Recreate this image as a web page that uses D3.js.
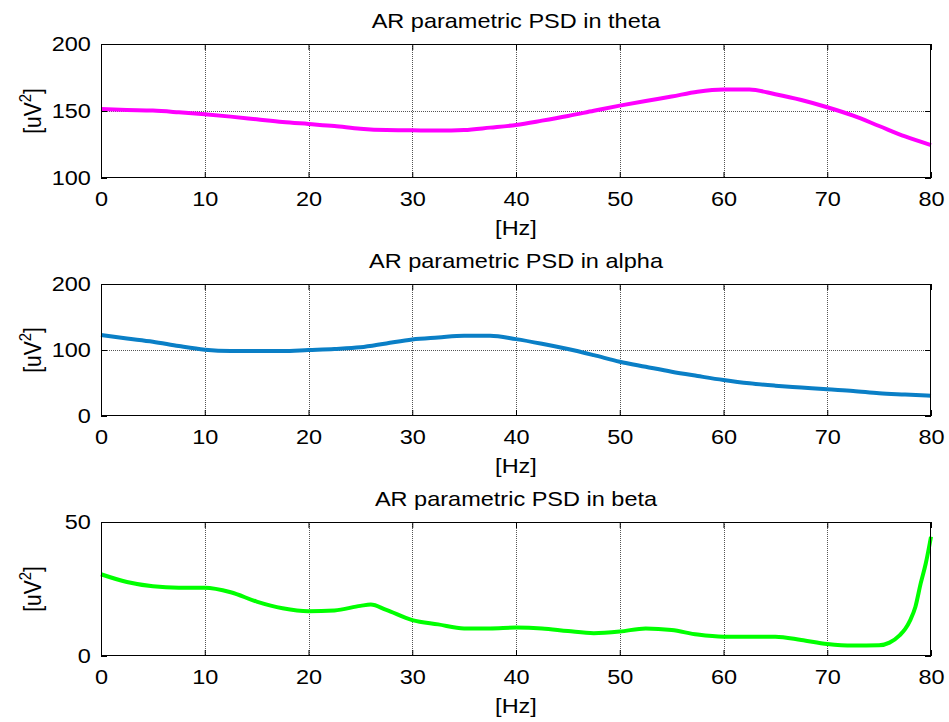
<!DOCTYPE html>
<html>
<head>
<meta charset="utf-8">
<script src="https://cdn.jsdelivr.net/npm/d3@7/dist/d3.min.js"></script>
<style>
  html, body { margin: 0; padding: 0; background: #fff; }
  svg { display: block; }
  text { font-family: "Liberation Sans", Arial, Helvetica, sans-serif; fill: #000; }
</style>
</head>
<body>
<svg id="chart" width="949" height="722"></svg>
<script>
// Frequency axis ticks (Hz)
const freqTicks = [0, 10, 20, 30, 40, 50, 60, 70, 80];

// Theta band PSD
const thetaFreq = [0, 2.5, 5, 7.5, 10, 12.5, 15, 17.5, 20, 22.5, 25, 27.5, 30, 32.5, 35, 37.5, 40,
                   42.5, 45, 47.5, 50, 52.5, 55, 57.5, 60, 62.5, 65, 67.5, 70, 72.5, 75, 77.5, 80];
const thetaPsd  = [151.5, 150.8, 150.3, 149, 147.5, 145.8, 143.8, 141.8, 140.3, 138.8, 136.8, 135.8,
                   135.6, 135.4, 135.8, 137.6, 139.6, 142.8, 146.3, 150.2, 154, 157.5, 160.8, 164.4,
                   166, 166, 162.5, 158.2, 152.8, 146.5, 138.8, 131, 124.6];
const thetaTicks = [100, 150, 200];

// Alpha band PSD
const alphaFreq = [0, 2.5, 5, 7.5, 10, 12.5, 15, 17.5, 20, 22.5, 25, 27.5, 30, 32.5, 35, 37.5, 40,
                   42.5, 45, 47.5, 50, 52.5, 55, 57.5, 60, 62.5, 65, 67.5, 70, 72.5, 75, 77.5, 80];
const alphaPsd  = [122.7, 117.5, 112.6, 106, 100.5, 98.5, 98.5, 98.5, 100, 101.5, 104, 110, 116, 119,
                   121.7, 121.7, 116.5, 109.5, 101.5, 92.2, 82.3, 74.6, 67, 60.6, 54.5, 49.5, 46, 43.2,
                   40.4, 38, 34.3, 32.5, 30.8];
const alphaTicks = [0, 100, 200];

// Beta band PSD
const betaFreq = [0, 2.5, 5, 7.5, 10, 12.5, 15, 17.5, 20, 22.5, 25, 26, 27.5, 30, 32.5, 35, 37.5, 40,
                  42.5, 45, 47.5, 50, 52.5, 55, 57.5, 60, 62.5, 65, 67.5, 70, 72.5, 75, 76, 77, 77.5,
                  78, 78.5, 79, 79.5, 80];
const betaPsd  = [30.5, 27.6, 26, 25.5, 25.5, 23.8, 20.3, 17.8, 16.7, 17, 18.7, 19.2, 17.2, 13.4, 11.8,
                  10.3, 10.3, 10.6, 10.3, 9.3, 8.5, 9.1, 10.3, 9.7, 8.0, 7.2, 7.2, 7.2, 6.0, 4.5, 3.9,
                  4.0, 5.0, 7.8, 10, 13.4, 18.4, 27, 34.6, 44.5];
const betaTicks = [0, 50];

const titles = ["AR parametric PSD in theta", "AR parametric PSD in alpha", "AR parametric PSD in beta"];
const xLabel = "[Hz]";

const panels = [
  { title: titles[0], freq: thetaFreq, psd: thetaPsd, ticks: thetaTicks, domain: [100, 200], color: "#ff00ff", top: 44, bottom: 178 },
  { title: titles[1], freq: alphaFreq, psd: alphaPsd, ticks: alphaTicks, domain: [0, 200],   color: "#0a7fc6", top: 284, bottom: 416 },
  { title: titles[2], freq: betaFreq,  psd: betaPsd,  ticks: betaTicks,  domain: [0, 50],    color: "#00ff00", top: 522, bottom: 656 }
];

const svg = d3.select("#chart");
const left = 101, right = 931;
const fontSize = 21;
const stretch = 1.12;   // horizontal text stretch of the figure
const tickLen = 6;

const x = d3.scaleLinear().domain([0, 80]).range([left, right]);

panels.forEach(p => {
  const y = d3.scaleLinear().domain(p.domain).range([p.bottom, p.top]);
  const g = svg.append("g");

  // grid: vertical at interior x ticks, horizontal at interior y ticks
  const grid = g.append("g").attr("stroke", "#555").attr("stroke-width", 1).attr("stroke-dasharray", "1,1");
  freqTicks.filter(t => t > 0 && t < 80).forEach(t => {
    grid.append("line")
      .attr("x1", Math.round(x(t)) + 0.5).attr("x2", Math.round(x(t)) + 0.5)
      .attr("y1", p.top).attr("y2", p.bottom);
  });
  p.ticks.filter(t => t > p.domain[0] && t < p.domain[1]).forEach(t => {
    grid.append("line")
      .attr("y1", Math.round(y(t)) + 0.5).attr("y2", Math.round(y(t)) + 0.5)
      .attr("x1", left).attr("x2", right);
  });

  // data line
  const line = d3.line()
    .x((d, i) => x(p.freq[i]))
    .y(d => y(d))
    .curve(d3.curveMonotoneX);
  g.append("path")
    .datum(p.psd)
    .attr("fill", "none")
    .attr("stroke", p.color)
    .attr("stroke-width", 4)
    .attr("stroke-linejoin", "round")
    .attr("stroke-linecap", "butt")
    .attr("d", line);

  // axes with inward ticks on all four sides
  const styleAxis = sel => {
    sel.select(".domain").remove();
    sel.selectAll(".tick line").attr("stroke", "#000");
    sel.selectAll(".tick text").attr("font-size", fontSize).attr("fill", "#000")
      .attr("transform", `scale(${stretch},1)`)
      .style("font-family", "'Liberation Sans', Arial, Helvetica, sans-serif");
  };

  g.append("g")
    .attr("transform", `translate(0,${p.bottom})`)
    .call(d3.axisBottom(x).tickValues(freqTicks).tickFormat(d3.format("d"))
      .tickSizeInner(-tickLen).tickSizeOuter(0).tickPadding(13))
    .call(styleAxis);
  g.append("g")
    .attr("transform", `translate(0,${p.top})`)
    .call(d3.axisTop(x).tickValues(freqTicks).tickFormat("")
      .tickSizeInner(-tickLen).tickSizeOuter(0))
    .call(styleAxis);
  g.append("g")
    .attr("transform", `translate(${left},0)`)
    .call(d3.axisLeft(y).tickValues(p.ticks).tickFormat(d3.format("d"))
      .tickSizeInner(-tickLen).tickSizeOuter(0).tickPadding(9))
    .call(styleAxis);
  g.append("g")
    .attr("transform", `translate(${right},0)`)
    .call(d3.axisRight(y).tickValues(p.ticks).tickFormat("")
      .tickSizeInner(-tickLen).tickSizeOuter(0))
    .call(styleAxis);

  // box
  g.append("rect")
    .attr("x", left + 0.5).attr("y", p.top + 0.5)
    .attr("width", right - left - 1).attr("height", p.bottom - p.top - 1)
    .attr("fill", "none").attr("stroke", "#000").attr("stroke-width", 1);

  // title
  g.append("text")
    .attr("transform", `translate(${(left + right) / 2},${p.top - 16}) scale(${stretch},1)`)
    .attr("text-anchor", "middle").attr("font-size", fontSize)
    .text(p.title);

  // x label
  g.append("text")
    .attr("transform", `translate(${(left + right) / 2},${p.bottom + 57}) scale(${stretch},1)`)
    .attr("text-anchor", "middle").attr("font-size", fontSize)
    .text(xLabel);

  // y label [uV^2]
  const yl = g.append("text")
    .attr("transform", `translate(41,${(p.top + p.bottom) / 2}) scale(${stretch},1) rotate(-90)`)
    .attr("text-anchor", "middle").attr("font-size", fontSize);
  yl.append("tspan").text("[uV");
  yl.append("tspan").attr("font-size", 15).attr("dy", -9).text("2");
  yl.append("tspan").attr("dy", 9).text("]");
});
</script>
</body>
</html>
